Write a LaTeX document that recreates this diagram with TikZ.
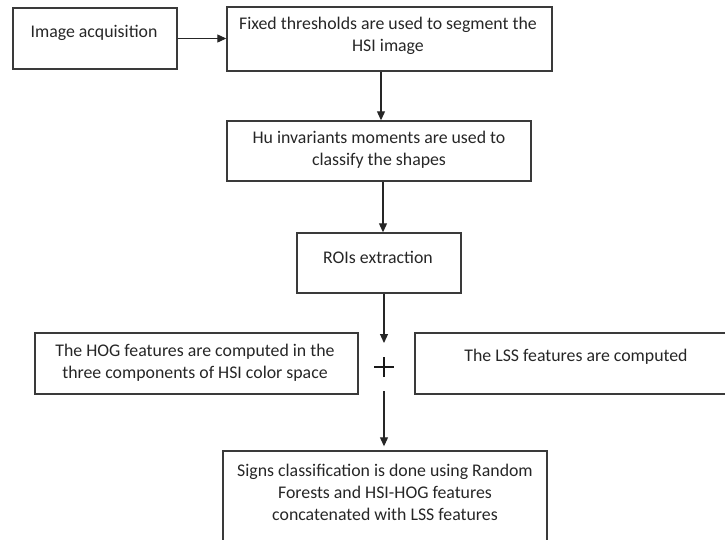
\documentclass[tikz,border=0pt]{standalone}
\usepackage{fontspec}
\setmainfont{Carlito}
\usetikzlibrary{arrows.meta}
\definecolor{linec}{HTML}{3A3A3A}
\definecolor{textc}{HTML}{262626}
\tikzset{
  box/.style={draw=linec, line width=1.4pt, inner sep=0pt, fill=none},
  txt/.style={inner sep=0pt, align=center, text=textc, font=\fontsize{17.8}{22}\selectfont},
  arr/.style={draw=black!85, line width=1.1pt, -{Triangle[length=9pt,width=8pt]}},
  plusline/.style={draw=black!90, line width=1.8pt}
}
\begin{document}
\begin{tikzpicture}[x=1pt,y=-1pt]
\useasboundingbox (0,0) rectangle (725,539);
% boxes
\node[box, minimum width=164pt, minimum height=61pt] (acq) at (95,38.5) {};
\node[box, minimum width=325pt, minimum height=64pt] (fix) at (389.5,39) {};
\node[box, minimum width=304pt, minimum height=60pt] (hu) at (379,151) {};
\node[box, minimum width=164pt, minimum height=60pt] (roi) at (379,263) {};
\node[box, minimum width=323pt, minimum height=61pt] (hog) at (196.5,363.5) {};
\node[box, minimum width=320pt, minimum height=61pt] (lss) at (575,363.5) {};
\node[box, minimum width=324pt, minimum height=98pt] (cls) at (385,500) {};
% texts
\node[txt] (acqt) at (94,33) {Image acquisition};
\node[txt] (fixt) at (388,36) {Fixed thresholds are used to segment the\\HSI image};
\node[txt] (hut) at (379,150) {Hu invariants moments are used to\\classify the shapes};
\node[txt] (roit) at (378,257) {ROIs extraction};
\node[txt] (hogt) at (195,362.5) {The HOG features are computed in the\\three components of HSI color space};
\node[txt] (lsst) at (576,357) {The LSS features are computed};
\node[txt] (clst) at (385,492) {Signs classification is done using Random\\Forests and HSI-HOG features\\concatenated with LSS features};
% plus
\node[minimum size=20pt, inner sep=0pt, outer ysep=14pt] (plus) at (384,367) {};
\draw[plusline] ([yshift=-10pt]plus.center) -- ([yshift=10pt]plus.center);
\draw[plusline] ([xshift=-10pt]plus.center) -- ([xshift=10pt]plus.center);
% connectors
\draw[arr] (acq.east) -- (fix.west |- acq.east);
\draw[arr] ([xshift=2pt]hu.north |- fix.south) -- ([xshift=2pt]hu.north);
\draw[arr] ([xshift=4pt]roi.north |- hu.south) -- ([xshift=4pt]roi.north);
\draw[arr] (plus |- roi.south) -- (plus.north);
\draw[arr, shorten >=4pt] (plus.south) -- (plus |- cls.north);
\end{tikzpicture}
\end{document}
